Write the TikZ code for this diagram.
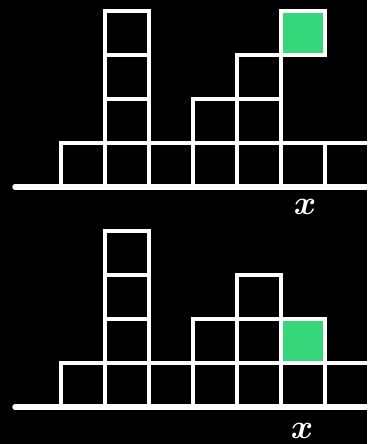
\RequirePackage{fix-cm}
\documentclass[tikz,border=0pt]{standalone}
\definecolor{goalgreen}{RGB}{53,215,122}
\begin{document}
\begin{tikzpicture}[x=1pt,y=-1pt,
  cell/.style={shape=rectangle,draw=white,line width=3.6pt,minimum size=44pt,inner sep=0pt,outer sep=0pt},
  goal/.style={cell,fill=goalgreen},
  ground/.style={draw=white,line width=5.5pt,line cap=round},
  lab/.style={text=white,inner sep=0pt,font=\fontsize{34}{34}\selectfont\boldmath}]
\fill[black] (0,0) rectangle (367,444);
\useasboundingbox (0,0) rectangle (367,444);
% ---------- top panel ----------
\coordinate (ga1) at (15,187);
\coordinate (gb1) at (375,187);
\draw[ground] (ga1) -- (gb1);
\foreach \c in {1,...,7}{
  \node[cell] (t-\c-1) at ({39+44*\c},165) {};
}
\foreach \r in {2,3,4}{
  \node[cell] (t-2-\r) at (127,{165-44*(\r-1)}) {};
}
\node[cell] (t-4-2) at (215,121) {};
\node[cell] (t-5-2) at (259,121) {};
\node[cell] (t-5-3) at (259,77) {};
\node[goal] (t-6-4) at (303,33) {};
\node[lab] (xt) at (305,207) {$x$};
% ---------- bottom panel ----------
\coordinate (ga2) at (15,407);
\coordinate (gb2) at (375,407);
\draw[ground] (ga2) -- (gb2);
\foreach \c in {1,...,7}{
  \node[cell] (b-\c-1) at ({39+44*\c},385) {};
}
\foreach \r in {2,3,4}{
  \node[cell] (b-2-\r) at (127,{385-44*(\r-1)}) {};
}
\node[cell] (b-4-2) at (215,341) {};
\node[cell] (b-5-2) at (259,341) {};
\node[cell] (b-5-3) at (259,297) {};
\node[goal] (b-6-2) at (303,341) {};
\node[lab] (xb) at (302,431) {$x$};
\end{tikzpicture}
\end{document}
